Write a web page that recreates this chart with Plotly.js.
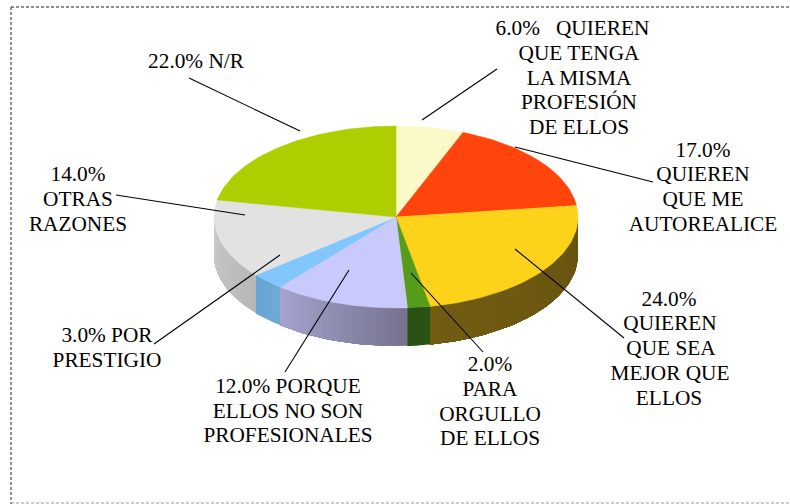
<!DOCTYPE html>
<html><head><meta charset="utf-8">
<script src="https://cdn.plot.ly/plotly-3.0.1.min.js"></script>
<style>html,body{margin:0;padding:0;background:#fff}#c{width:790px;height:504px}</style>
</head><body><div id="c"></div>
<script>
// data, clockwise from 12 o'clock
const categories = ["QUIEREN QUE TENGA LA MISMA PROFESIÓN DE ELLOS","QUIEREN QUE ME AUTOREALICE","QUIEREN QUE SEA MEJOR QUE ELLOS","PARA ORGULLO DE ELLOS","PORQUE ELLOS NO SON PROFESIONALES","POR PRESTIGIO","OTRAS RAZONES","N/R"];
const values = [6,17,24,2,12,3,14,22];
const topColors = ["#FBF9C8","#FF440C","#FDD21B","#579B1B","#C9C9FB","#82C6FF","#E2E2E2","#AFCE00"];
const sideFrom = [[0,0,0],[0,0,0],[103,83,15],[42,82,18],[116,114,140],[110,170,210],[184,184,184],[0,0,0]];
const sideTo   = [[0,0,0],[0,0,0],[114,92,18],[42,82,18],[166,164,208],[102,165,214],[202,202,202],[0,0,0]];
const labelLines = [
  ["6.0%\u00a0\u00a0 QUIEREN","QUE TENGA","LA MISMA","PROFESIÓN","DE ELLOS"],
  ["17.0%","QUIEREN","QUE ME","AUTOREALICE"],
  ["24.0%","QUIEREN","QUE SEA","MEJOR QUE","ELLOS"],
  ["2.0%","PARA","ORGULLO","DE ELLOS"],
  ["12.0% PORQUE","ELLOS NO SON","PROFESIONALES"],
  ["3.0% POR","PRESTIGIO"],
  ["14.0%","OTRAS","RAZONES"],
  ["22.0% N/R"]
];
// layout of the labels and leaders (pixel-like axis units)
const labelX = [[572.5,579,579,579,579],[703,703,703,703],[669,670,671,670,669],[490,490,490,490],[288,288,288],[107,107],[78,78,78],[196]];
const labelY = [[30,55,80,104,129],[152,176,201,226],[301,325,350,375,400],[366,391,416,440],[388,413,437],[337,362],[176,201,226],[63]];
const leaders = [[422,120,497,69],[515,147,653,182],[515,249,624,338],[411,273,483,352],[349,270,285,372],[280,255,154,344],[245,215,116,195],[300,131,189,78]];
const cx=396, cy=217, rx=182, ry=91, depth=38;

const pt=(deg,dy=0)=>{const r=deg*Math.PI/180;return [cx+rx*Math.sin(r),cy-ry*Math.cos(r)+dy];};
const traces=[];
const total=values.reduce((a,b)=>a+b,0);
let a=0; const spans=values.map(v=>{const s=[a,a+v/total*360];a=s[1];return s;});
// sides: each step is painted through to the slice end, so no seams show
spans.forEach((s,i)=>{
  const from=Math.max(s[0],90), to=Math.min(s[1],270);
  if(to<=from) return;
  const n=Math.max(1,Math.ceil((to-from)/2));
  for(let k=0;k<n;k++){
    const a0=from+(to-from)*k/n, t=(k+.5)/n;
    const c=sideFrom[i].map((v,j)=>Math.round(v+(sideTo[i][j]-v)*t));
    const col=`rgb(${c.join(',')})`;
    const up=[],down=[];
    for(let m=0;m<=n-k;m++){const d=a0+(to-a0)*m/(n-k);up.push(pt(d));down.unshift(pt(d,depth));}
    const p=up.concat(down);p.push(up[0]);
    traces.push({type:'scatter',mode:'lines',x:p.map(q=>q[0]),y:p.map(q=>q[1]),fill:'toself',fillcolor:col,line:{width:0},hoverinfo:'skip',showlegend:false});
  }
});
// top faces
spans.forEach((s,i)=>{
  const xs=[cx],ys=[cy],n=Math.ceil((s[1]-s[0])/1.5);
  for(let k=0;k<=n;k++){const q=pt(s[0]+(s[1]-s[0])*k/n);xs.push(q[0]);ys.push(q[1]);}
  xs.push(cx);ys.push(cy);
  traces.push({type:'scatter',mode:'lines',name:categories[i],x:xs,y:ys,fill:'toself',fillcolor:topColors[i],line:{color:topColors[i],width:0.5},hoverinfo:'name',showlegend:false});
});
// leaders
leaders.forEach(l=>traces.push({type:'scatter',mode:'lines',x:[l[0],l[2]],y:[l[1],l[3]],line:{color:'#000',width:1.1},hoverinfo:'skip',showlegend:false}));
// labels
traces.push({type:'scatter',mode:'text',x:labelX.flat(),y:labelY.flat(),text:labelLines.flat(),textposition:'middle center',
  textfont:{family:'"Liberation Serif",serif',size:21.3,color:'#000'},hoverinfo:'skip',showlegend:false});

const hidden={visible:false,fixedrange:true};
const layout={width:790,height:504,margin:{l:0,r:0,t:0,b:0},paper_bgcolor:'#fff',plot_bgcolor:'#fff',
  xaxis:Object.assign({range:[0,790]},hidden),yaxis:Object.assign({range:[504,0]},hidden),
  shapes:[
    {type:'line',xref:'x',yref:'y',x0:11,x1:790,y0:7,y1:7,line:{color:'#222',width:1,dash:'3px,2px'}},
    {type:'line',xref:'x',yref:'y',x0:11,x1:11,y0:7,y1:504,line:{color:'#222',width:1,dash:'3px,2px'}},
    {type:'line',xref:'x',yref:'y',x0:11,x1:790,y0:503,y1:503,line:{color:'#999',width:1,dash:'3px,2px'}}
  ]};
Plotly.newPlot('c',traces,layout,{displayModeBar:false,staticPlot:true});
</script></body></html>
